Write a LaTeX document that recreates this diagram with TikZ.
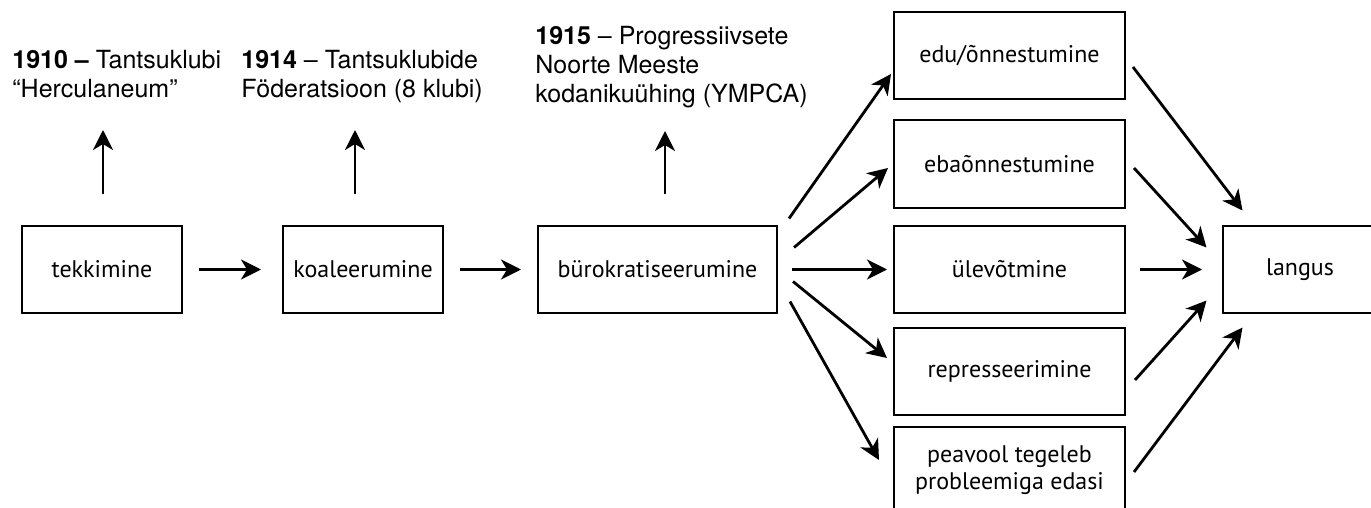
\documentclass[tikz,border=0pt]{standalone}
\usepackage{fontspec}
\setmainfont{PT Sans}
\newfontfamily\headfont{TeX Gyre Heros}
\usetikzlibrary{arrows.meta}

\begin{document}
\begin{tikzpicture}[x=0.5pt,y=-0.5pt,
  box/.style={draw,line width=1pt,minimum width=80pt,minimum height=43.5pt,inner sep=0pt,align=center,font=\fontsize{12}{13.5}\selectfont},
  wide/.style={box,minimum width=115.5pt},
  event/.style={anchor=north west,inner sep=0pt,align=left,font=\headfont\fontsize{12.5}{14.5}\selectfont},
  arr/.style={-{Stealth[length=10pt,width=10pt,inset=3pt]},line width=1.4pt}]
\useasboundingbox (0,0) rectangle (1371,508);
%\draw[help lines,step=50] (0,0) grid (1371,508);

\node[box] (tek) at (102,269.5) {tekkimine};
\node[box] (koal) at (363,269.5) {koaleerumine};
\node[box,minimum width=119.5pt] (buro) at (657.5,269.5) {bürokratiseerumine};

\node[wide] (edu) at (1009.5,56) {edu/õnnestumine};
\node[wide] (ebao) at (1009.5,164) {ebaõnnestumine};
\node[wide] (ulev) at (1009.5,269.5) {ülevõtmine};
\node[wide] (repr) at (1009.5,371) {represseerimine};
\node[wide] (peav) at (1009.5,470) {peavool tegeleb\\probleemiga edasi};

\node[box,minimum width=77.5pt] (lang) at (1300,269.5) {langus};

\node[event] (y1910) at (12,50) {\textbf{1910 –} Tantsuklubi\\“Herculaneum”};
\node[event] (y1914) at (241,50) {\textbf{1914} – Tantsuklubide\\Föderatsioon (8 klubi)};
\node[event] (y1915) at (535,26) {\textbf{1915} – Progressiivsete\\Noorte Meeste\\kodanikuühing (YMPCA)};

\draw[arr] ([shift={(1,-31)}]tek.north) -- ([shift={(1,-95)}]tek.north);
\draw[arr] ([shift={(-8,-31)}]koal.north) -- ([shift={(-8,-95)}]koal.north);
\draw[arr] ([shift={(7.5,-31)}]buro.north) -- ([shift={(7.5,-94)}]buro.north);

\draw[arr,shorten <=8pt,shorten >=10.5pt] (tek.east) -- (koal.west);
\draw[arr,shorten <=8pt,shorten >=8pt] (koal.east) -- (buro.west);

% fan out
\draw[arr] ([shift={(11,-51)}]buro.east) -- ([shift={(-2,18)}]edu.west);
\draw[arr] ([shift={(16,-22)}]buro.east) -- ([shift={(-5,4)}]ebao.west);
\draw[arr,shorten <=7pt,shorten >=3pt] (buro.east) -- (ulev.west);
\draw[arr] ([shift={(15,12)}]buro.east) -- ([shift={(-6,-13)}]repr.west);
\draw[arr] ([shift={(12,32)}]buro.east) -- ([shift={(-14,-10)}]peav.west);

% fan in
\draw[arr] ([shift={(7,11)}]edu.east) -- ([shift={(21,-59)}]lang.west);
\draw[arr] ([shift={(8,4)}]ebao.east) -- ([shift={(-15,-22)}]lang.west);
\draw[arr,shorten <=7pt,shorten >=9.75pt] (ulev.east) -- (lang.west);
\draw[arr] ([shift={(9,9)}]repr.east) -- ([shift={(-15,31)}]lang.west);
\draw[arr] ([shift={(8,2)}]peav.east) -- ([shift={(21,58)}]lang.west);
\end{tikzpicture}
\end{document}
